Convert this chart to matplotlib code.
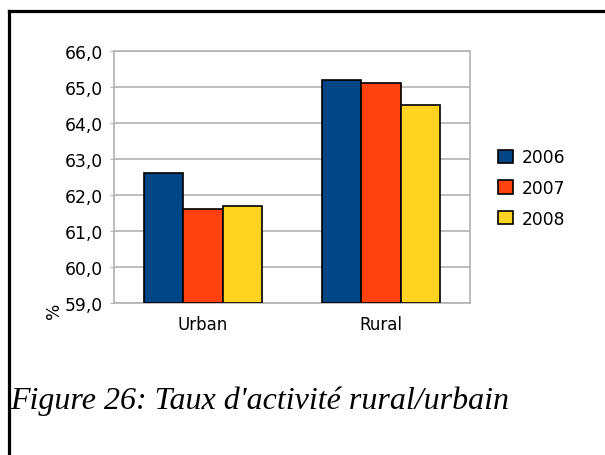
import matplotlib
matplotlib.use("Agg")
import matplotlib.pyplot as plt
from matplotlib.lines import Line2D
from matplotlib.ticker import FuncFormatter
import numpy as np

categories = ["Urban", "Rural"]
years = ["2006", "2007", "2008"]
values = {
    "2006": [62.6, 65.2],
    "2007": [61.6, 65.1],
    "2008": [61.7, 64.5],
}
colors = ["#004586", "#ff420e", "#ffd320"]

W, H = 605, 456
fig = plt.figure(figsize=(W / 100, H / 100), dpi=100)
fig.patch.set_facecolor("white")

# page frame: only the top and left edges fall inside the picture
fx, fy = 8.5 / W, 1 - 11.5 / H
fig.add_artist(Line2D([fx, 1.5], [fy, fy], transform=fig.transFigure,
                      color="black", lw=2.3, solid_capstyle="projecting"))
fig.add_artist(Line2D([fx, fx], [fy, -0.5], transform=fig.transFigure,
                      color="black", lw=2.3, solid_capstyle="projecting"))

ax = fig.add_axes([114 / W, 1 - 304 / H, (470 - 114) / W, (304 - 52) / H])
x = np.arange(len(categories))
bw = 0.222
for i, (yr, c) in enumerate(zip(years, colors)):
    ax.bar(x + (i - 1) * bw, np.array(values[yr]) - 59.0, bw, bottom=59.0,
           color=c, edgecolor="black", lw=1.2, label=yr, zorder=3)

ax.set_xlim(-0.5, 1.5)
ax.set_ylim(59, 66)
ax.set_yticks(np.arange(59, 67, 1))
ax.yaxis.set_major_formatter(FuncFormatter(lambda v, p: f"{v:.1f}".replace(".", ",")))
ax.set_xticks(x)
ax.set_xticklabels(categories, fontsize=12)
ax.tick_params(axis="y", labelsize=12.3, length=3, color="#b3b3b3", pad=5)
ax.tick_params(axis="x", length=0, pad=9)
ax.grid(axis="y", color="#b3b3b3", lw=1.2, zorder=0)
for s in ax.spines.values():
    s.set_color("#b3b3b3")
    s.set_linewidth(1.2)

fig.text(54 / W, 1 - 311 / H, "%", rotation=90, fontsize=12.3,
         ha="center", va="center")

leg = ax.legend(loc="upper left", bbox_to_anchor=(1.06, 0.641), frameon=False,
                fontsize=12.3, handlelength=0.85, handleheight=0.85,
                handletextpad=0.5, labelspacing=0.74, borderaxespad=0)

fig.text(10 / W, 1 - 409 / H, "Figure 26: Taux d'activité rural/urbain",
         family="Liberation Serif", style="italic", fontsize=23,
         ha="left", va="baseline")

fig.savefig("out.png", dpi=100, facecolor="white")
